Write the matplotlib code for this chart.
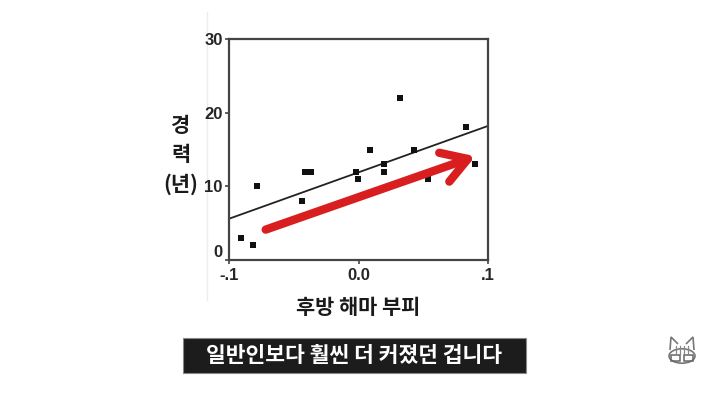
import matplotlib.pyplot as plt
from matplotlib.patches import FancyArrowPatch, Rectangle, Circle, Polygon
from matplotlib.lines import Line2D
from matplotlib.font_manager import FontProperties

plt.rcParams['font.family'] = ['Noto Sans CJK KR', 'DejaVu Sans']

# scatter data
volume = [-0.091, -0.0815, -0.078, -0.0436, -0.0413, -0.037, -0.0017, -0.0001,
          0.0086, 0.020, 0.020, 0.032, 0.043, 0.054, 0.083, 0.090]
years = [3, 2, 10, 8, 12, 12, 12, 11, 15, 13, 12, 22, 15, 11, 18, 13]

# fitted line end points
fit_x = [-0.1, 0.1]
fit_y = [5.6, 18.2]

# red arrow
arrow_start = (-0.0737, 4.0)
arrow_end = (0.0923, 14.2)

xticks = [-0.1, 0.0, 0.1]
xtick_labels = ['-.1', '0.0', '.1']
yticks = [0, 10, 20, 30]

fig = plt.figure(figsize=(7.12, 3.95), dpi=100)
ax = fig.add_axes([229 / 712, 1 - 260 / 395, 259 / 712, 221 / 395])

ax.plot(fit_x, fit_y, color='#222222', lw=1.3, zorder=2)
ax.scatter(volume, years, marker='s', s=16, color='#111111', zorder=3, linewidths=0)

arr = FancyArrowPatch(arrow_start, arrow_end, arrowstyle='->,head_length=1.8,head_width=1.1',
                      mutation_scale=10, lw=6, color='#d81e1e', capstyle='round',
                      joinstyle='round', zorder=4)
ax.add_patch(arr)

tick_font = FontProperties(family='Liberation Sans', weight='bold', size=12)

ax.set_xlim(-0.1, 0.1)
ax.set_ylim(0, 30)
ax.set_xticks(xticks)
ax.set_xticklabels(xtick_labels, fontproperties=tick_font, color='#262626')
ax.set_yticks(yticks)
ax.set_yticklabels([str(v) for v in yticks], fontproperties=tick_font, color='#262626')
ax.tick_params(length=3, width=1.2, color='#444444', pad=1.5)
ax.tick_params(axis='x', pad=3)
ax.get_yticklabels()[0].set_va('bottom')
for s in ax.spines.values():
    s.set_linewidth(1.6)
    s.set_color('#444444')

ax.set_xlabel('후방 해마 부피', fontsize=15, fontweight='bold', labelpad=10, color='#1a1a1a')
fig.text(181 / 712, 1 - 155 / 395, '경\n력\n(년)', fontsize=15, fontweight='bold',
         ha='center', va='center', linespacing=1.45, color='#1a1a1a')

# faint slide edge (behind everything)
fig.add_artist(Line2D([207 / 712, 207 / 712], [1 - 300 / 395, 1 - 12 / 395],
                      color='#ededed', lw=1, zorder=-5))

# subtitle box
fig.add_artist(Rectangle((183 / 712, 1 - 373 / 395), 343 / 712, 35 / 395,
                         transform=fig.transFigure, facecolor='#1c1c1c',
                         edgecolor='#888888', lw=0.8))
fig.text(354 / 712, 1 - 355.5 / 395, '일반인보다 훨씬 더 커졌던 겁니다', fontsize=15.5,
         fontweight='bold', color='white', ha='center', va='center')

# little cat logo
cx, cy = 682 / 712, 1 - 356 / 395
rx, ry = 1 / 712, 1 / 395
fig.add_artist(Circle((cx, cy), 13 * rx, transform=fig.transFigure,
                      facecolor='white', edgecolor='#777777', lw=1.2))
for sgn in (-1, 1):
    fig.add_artist(Polygon([(cx + sgn * 12 * rx, cy + 6 * ry), (cx + sgn * 11 * rx, cy + 19 * ry),
                            (cx + sgn * 4 * rx, cy + 12 * ry)], closed=False,
                           transform=fig.transFigure, fill=False, edgecolor='#777777', lw=1.2))
    fig.add_artist(Rectangle((cx + (sgn * 6 - 4.5) * rx, cy - 5 * ry), 9 * rx, 6 * ry,
                             transform=fig.transFigure, fill=False,
                             edgecolor='#666666', lw=1.1))
for dx in (-6, -2, 2, 6):
    fig.add_artist(Line2D([cx + dx * rx, cx + dx * rx], [cy + 2 * ry, cy + 10 * ry],
                          color='#888888', lw=0.9))

fig.savefig('out.png', dpi=100)
